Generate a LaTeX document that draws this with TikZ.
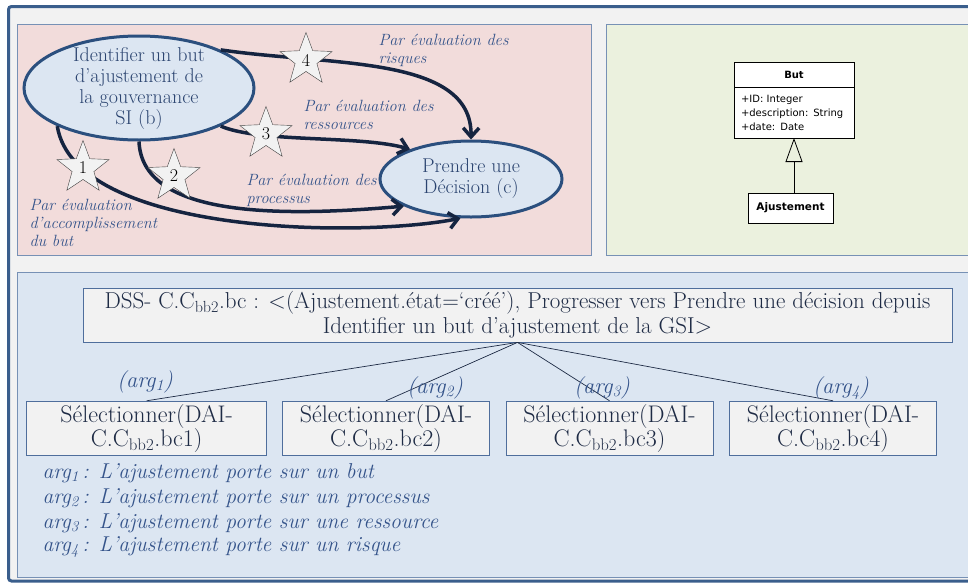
\documentclass[tikz,border=0pt]{standalone}
\usepackage{fontspec}
\usepackage{tikz}
\usetikzlibrary{arrows.meta,positioning,shapes.geometric}
\newfontfamily\umlfont{DejaVu Sans}
\definecolor{cadrecol}{HTML}{3A5E8C}
\definecolor{fondcol}{HTML}{F2F2F2}
\definecolor{rosecol}{HTML}{F2DCDB}
\definecolor{vertcol}{HTML}{EBF1DE}
\definecolor{bleucol}{HTML}{DCE6F2}
\definecolor{bordcol}{HTML}{7791B5}
\definecolor{ellcol}{HTML}{2B4F7E}
\definecolor{ecrcol}{HTML}{2B4470}
\definecolor{flechecol}{HTML}{152440}
\definecolor{argcol}{HTML}{34538A}
\definecolor{boitecol}{HTML}{4F6E9C}
\definecolor{textcol}{HTML}{1E2B45}

\begin{document}
\begin{tikzpicture}[
  x=1pt, y=-1pt,
  panneau/.style={draw=bordcol, line width=0.8pt},
  etape/.style={ellipse, draw=ellcol, line width=3pt, fill=bleucol, text=ecrcol, align=center, inner xsep=0pt, inner ysep=-14pt, font=\fontsize{20}{21}\selectfont},
  etoile/.style={star, star points=5, star point ratio=2.4, draw=black!75, fill=fondcol, minimum size=55pt, inner sep=0pt, font=\fontsize{18}{18}\selectfont},
  fleche/.style={-{Straight Barb[length=9pt,width=16pt]}, line width=3.5pt, draw=flechecol},
  strat/.style={text=argcol, align=left, anchor=west, font=\fontsize{16.3}{18}\selectfont\itshape},
  umlbox/.style={draw, fill=white, line width=0.8pt, outer sep=0pt, font=\umlfont\fontsize{10}{14}\selectfont},
  cible/.style={draw=boitecol, fill=fondcol, text=textcol, align=center, line width=0.8pt, font=\fontsize{23}{25}\selectfont},
  choix/.style={cible, minimum width=207pt, minimum height=49pt, font=\fontsize{24}{24}\selectfont},
  argtxt/.style={text=argcol, font=\fontsize{22.5}{25}\selectfont\itshape},
  legende/.style={argtxt, anchor=west, font=\fontsize{21.5}{25}\selectfont\itshape},
  lien/.style={draw=textcol, line width=0.7pt}
]
\useasboundingbox (0,0) rectangle (968,584);
\clip (0,0) rectangle (968,584);

% cadres
\draw[cadrecol, fill=fondcol, line width=3pt, rounded corners=3pt] (8.5,6.5) rectangle (990,581);
\draw[panneau, fill=rosecol] (17.5,24.5) rectangle (591,255.5);
\draw[panneau, fill=vertcol] (606,24.5) rectangle (990,255.5);
\draw[panneau, fill=bleucol] (17.5,272.5) rectangle (990,577);

% carte des intentions
\node[etape, minimum width=230pt, minimum height=104pt] (ident) at (139,88) {Identifier un but\\d’ajustement de\\la gouvernance\\SI (b)};
\node[etape, minimum width=182pt, minimum height=76pt] (decis) at (471,179) {Prendre une\\Décision (c)};

\draw[fleche] (ident.25) .. controls (330,66) and (472,55) .. (decis.north);
\draw[fleche] (ident.-25) .. controls (260,143) and (360,135) .. (decis.154);
\draw[fleche] (ident.south) .. controls (142,215) and (270,218) .. (decis.202);
\draw[fleche] (ident.205) .. controls (75,235) and (360,238) .. (decis.255);

\node[etoile] (s4) at (306,60) {4};
\node[etoile] (s3) at (266,134) {3};
\node[etoile] (s2) at (174,176) {2};
\node[etoile] (s1) at (83,168) {1};

\node[strat] (risq) at (375,50) {Par évaluation des\\risques};
\node[strat] (ress) at (300,115) {Par évaluation des\\ressources};
\node[strat] (proc) at (243,190) {Par évaluation des\\processus};
\node[strat] (accp) at (26,223) {Par évaluation\\d’accomplissement\\du but};

% diagramme de classes
\node[umlbox, font=\umlfont\bfseries\fontsize{10}{12}\selectfont, minimum width=120pt, minimum height=25pt] (but) at (794,74.5) {But};
\node[umlbox, below=0pt of but, minimum width=120pt, minimum height=51pt, text width=106pt, inner xsep=7pt, align=left] (butattr) {+ID: Integer\\+description: String\\+date: Date};
\node[umlbox, font=\umlfont\bfseries\fontsize{10.5}{12}\selectfont, minimum width=85pt, minimum height=30pt] (ajust) at (790.5,208) {Ajustement};
\draw[line width=0.8pt, -{Triangle[open,length=24pt,width=17pt]}] (butattr.south |- ajust.north) -- (butattr.south);

% arbre de choix
\node[cible, minimum width=869pt, minimum height=54pt] (dss) at (517.5,315) {DSS- C.C\textsubscript{bb2}.bc : <(Ajustement.état=‘créé’), Progresser vers Prendre une décision depuis\\Identifier un but d’ajustement de la GSI>};
\node[choix, minimum width=240pt] (sel1) at (146.6,428.5) {Sélectionner(DAI-\\C.C\textsubscript{bb2}.bc1)};
\node[choix] (sel2) at (386,428.5) {Sélectionner(DAI-\\C.C\textsubscript{bb2}.bc2)};
\node[choix] (sel3) at (609.5,428.5) {Sélectionner(DAI-\\C.C\textsubscript{bb2}.bc3)};
\node[choix] (sel4) at (833,428.5) {Sélectionner(DAI-\\C.C\textsubscript{bb2}.bc4)};
\foreach \i in {1,...,4}
  \draw[lien] (dss.south) -- (sel\i.north);

\node[argtxt] (arg1) at (145,382) {(arg\textsubscript{1})};
\node[argtxt] (arg2) at (435,388) {(arg\textsubscript{2})};
\node[argtxt] (arg3) at (602,388) {(arg\textsubscript{3})};
\node[argtxt] (arg4) at (841,388) {(arg\textsubscript{4})};

\node[legende] (leg1) at (39,473) {arg\textsubscript{1}\,: L’ajustement porte sur un but};
\node[legende] (leg2) at (39,498) {arg\textsubscript{2}\,: L’ajustement porte sur un processus};
\node[legende] (leg3) at (39,523) {arg\textsubscript{3}\,: L’ajustement porte sur une ressource};
\node[legende] (leg4) at (39,547) {arg\textsubscript{4}\,: L’ajustement porte sur un risque};
\end{tikzpicture}
\end{document}
